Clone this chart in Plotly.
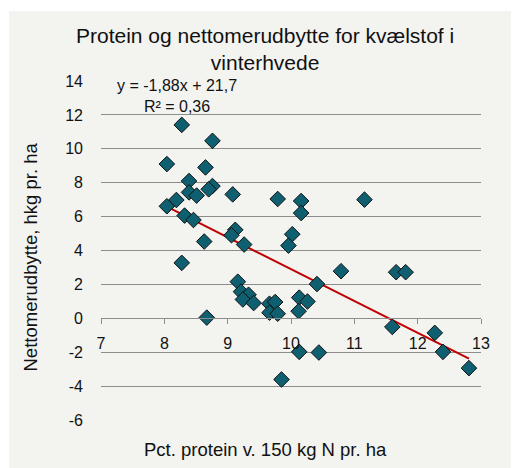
import plotly.graph_objects as go

protein = [8.04, 8.275, 8.76, 8.65, 8.39, 8.76, 8.70, 8.39, 8.51, 9.08,
           8.19, 8.04, 8.32, 8.46, 9.12, 9.06, 9.26, 8.63, 8.275, 9.16,
           9.21, 9.33, 9.24, 9.41, 8.67, 9.79, 10.16, 10.16, 10.02, 9.96,
           10.41, 9.66, 9.75, 9.66, 9.79, 10.13, 10.26, 10.12, 10.13, 10.44,
           9.85, 11.16, 10.79, 11.66, 11.81, 11.60, 12.27, 12.40, 12.81]
netto = [9.10, 11.41, 10.47, 8.90, 8.10, 7.80, 7.61, 7.43, 7.24, 7.31,
         6.98, 6.61, 6.06, 5.80, 5.22, 4.90, 4.35, 4.53, 3.27, 2.16,
         1.57, 1.39, 1.11, 0.90, 0.04, 7.04, 6.92, 6.21, 4.96, 4.29,
         2.02, 0.86, 0.96, 0.33, 0.27, 1.22, 0.99, 0.42, -1.98, -2.02,
         -3.61, 7.00, 2.78, 2.72, 2.72, -0.51, -0.86, -1.98, -2.94]

slope = -1.88
intercept = 21.7
x_ticks = [7, 8, 9, 10, 11, 12, 13]
y_ticks = [-6, -4, -2, 0, 2, 4, 6, 8, 10, 12, 14]
y_tick_labels = ["-6", "-4", "-2", "0", "2", "4", "6", "8", "10", "12", "14"]

trend_x = [min(protein), max(protein)]
trend_y = [slope * v + intercept for v in trend_x]

# page body has an 8px margin; figure coordinates = screen - 8
W, H = 511, 460
L, R, T, B = 93, 38, 73, 48
pw, ph = W - L - R, H - T - B

def px2x(px):
    return (px - L) / pw

def py2y(py):
    return (H - B - py) / ph

BG = "#f3f3f0"

fig = go.Figure()
fig.add_trace(go.Scatter(x=trend_x, y=trend_y, mode="lines",
                         line=dict(color="#c00000", width=2),
                         hoverinfo="skip", showlegend=False))
fig.add_trace(go.Scatter(x=protein, y=netto, mode="markers",
                         marker=dict(symbol="diamond", size=12, color="#0e6070",
                                     line=dict(color="#111111", width=1)),
                         showlegend=False))

fig.update_layout(
    width=W, height=H,
    margin=dict(l=L, r=R, t=T, b=B),
    paper_bgcolor=BG,
    plot_bgcolor=BG,
    font=dict(family="Liberation Sans, Arial", color="#111111"),
    showlegend=False,
    shapes=[
        dict(type="rect", xref="paper", yref="paper",
             x0=px2x(0), x1=px2x(W), y0=py2y(3), y1=py2y(0),
             fillcolor="white", line=dict(width=0), layer="above"),
        dict(type="rect", xref="paper", yref="paper",
             x0=px2x(0), x1=px2x(1), y0=py2y(H), y1=py2y(0),
             fillcolor="white", line=dict(width=0), layer="above"),
        dict(type="rect", xref="paper", yref="paper",
             x0=px2x(508), x1=px2x(W), y0=py2y(H), y1=py2y(0),
             fillcolor="white", line=dict(width=0), layer="above"),
    ],
    xaxis=dict(range=[7, 13], tickvals=x_ticks, showgrid=False,
               showline=True, linecolor="#8c8c8c", linewidth=1,
               ticks="outside", ticklen=5, tickcolor="#8c8c8c",
               anchor="free", position=6 / 20, zeroline=False,
               ticklabelstandoff=5,
               tickfont=dict(size=16, color="#111111"), fixedrange=True),
    yaxis=dict(range=[-6, 14], tickvals=y_ticks, ticktext=y_tick_labels,
               showgrid=True, gridcolor="#8c8c8c", gridwidth=1, zeroline=False,
               showline=False, ticks="", ticklabelstandoff=17,
               tickfont=dict(size=16, color="#111111")),
    annotations=[
        dict(text="Protein og nettomerudbytte for kvælstof i<br>vinterhvede",
             xref="paper", yref="paper", x=px2x(257), y=py2y(40.5),
             xanchor="center", yanchor="middle", showarrow=False,
             align="center", font=dict(size=21, color="#111111")),
        dict(text="y = -1,88x + 21,7<br>R² = 0,36", xref="paper", yref="paper",
             x=px2x(169), y=py2y(88), xanchor="center", yanchor="middle",
             showarrow=False, align="center",
             font=dict(size=16, color="#111111")),
        dict(text="Pct. protein v. 150 kg N pr. ha", xref="paper", yref="paper",
             x=px2x(257), y=py2y(441), xanchor="center", yanchor="middle",
             showarrow=False, font=dict(size=18.5, color="#111111")),
        dict(text="Nettomerudbytte, hkg pr. ha", xref="paper", yref="paper",
             x=px2x(22), y=py2y(249.5), xanchor="center", yanchor="middle",
             textangle=-90, showarrow=False,
             font=dict(size=18.5, color="#111111")),
    ],
)

fig.write_html("out.html")
